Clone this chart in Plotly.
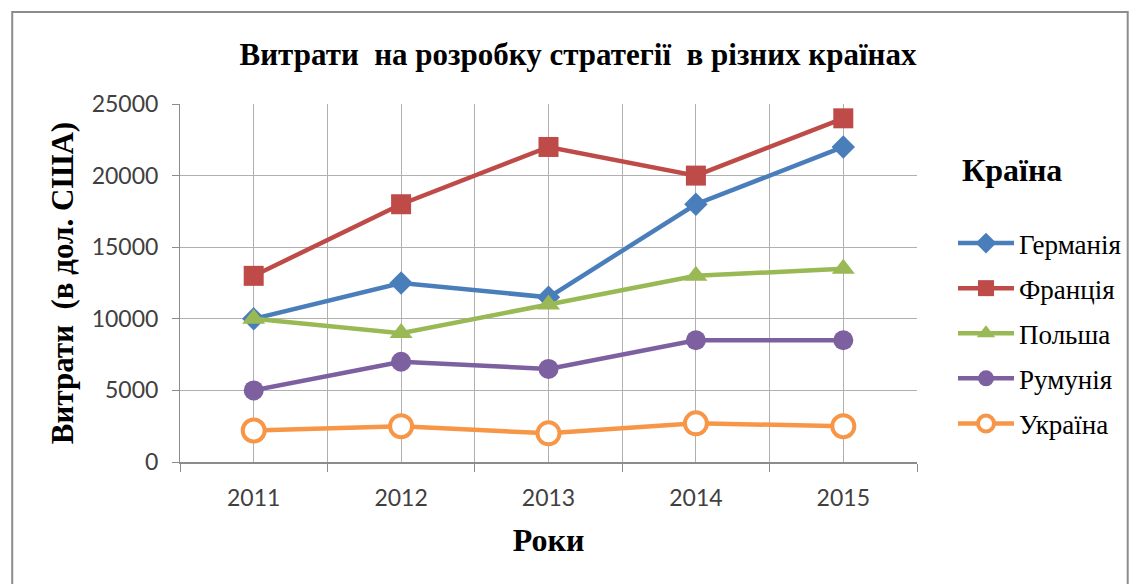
import plotly.graph_objects as go

years = [2011, 2012, 2013, 2014, 2015]
countries = ["Германія", "Франція", "Польша", "Румунія", "Україна"]
germany = [10000, 12500, 11500, 18000, 22000]
france = [13000, 18000, 22000, 20000, 24000]
poland = [10000, 9000, 11000, 13000, 13500]
romania = [5000, 7000, 6500, 8500, 8500]
ukraine = [2200, 2500, 2000, 2700, 2500]
y_ticks = [0, 5000, 10000, 15000, 20000, 25000]

series = [germany, france, poland, romania, ukraine]
colors = ["#4A7EBB", "#BE4B48", "#98B954", "#7D60A0", "#F79646"]
symbols = ["diamond", "square", "triangle-up", "circle", "circle"]
msizes = [18, 20, 20, 20, 22]

OFF = 8  # page body margin
W, H = 1137 - OFF, 584 - OFF
L, R, T, B = 180 - OFF, 918 - OFF, 104 - OFF, 462 - OFF

fig = go.Figure()
for i, (name, vals) in enumerate(zip(countries, series)):
    open_m = i == 4
    fig.add_trace(go.Scatter(
        x=years, y=vals, name=name, mode="lines+markers",
        legendgroup=name,
        line=dict(color=colors[i], width=4.5),
        marker=dict(symbol=symbols[i], size=msizes[i],
                    color="white" if open_m else colors[i],
                    line=dict(color=colors[i], width=4 if open_m else 0)),
    ))

def px_x(x):
    return (x - OFF - L) / (R - L)

def px_y(y):
    return (B - (y - OFF)) / (B - T)

serif = "Liberation Serif"
fig.update_layout(
    width=W, height=H,
    margin=dict(l=L, r=W - R, t=T, b=H - B),
    paper_bgcolor="white", plot_bgcolor="white",
    title=dict(text="<b>Витрати  на розробку стратегії  в різних країнах</b>",
               x=(578 - OFF) / W, xanchor="center",
               y=1 - (54 - OFF) / H, yanchor="middle",
               font=dict(family=serif, size=31, color="black")),
    showlegend=True,
    legend=dict(x=px_x(953), y=px_y(219), xanchor="left", yanchor="top",
                font=dict(family=serif, size=27, color="black"),
                itemwidth=56, tracegroupgap=7, bgcolor="rgba(0,0,0,0)"),
    font=dict(family="Lato", color="#404040"),
)

fig.update_xaxes(
    range=[2010.5, 2015.5], tickvals=years, ticktext=[str(y) for y in years],
    ticks="", showgrid=True, gridcolor="#B0B0B0", gridwidth=1,
    showline=True, linecolor="#8C8C8C", linewidth=2, zeroline=False,
    tickfont=dict(family="Lato", size=23, color="#404040"),
    ticklabelstandoff=14,
    minor=dict(tickvals=[2010.5, 2011.5, 2012.5, 2013.5, 2014.5, 2015.5],
               showgrid=True, gridcolor="#B0B0B0", gridwidth=1,
               ticks="outside", ticklen=8, tickcolor="#8C8C8C", tickwidth=1),
    title=dict(text="<b>Роки</b>", font=dict(family=serif, size=32, color="black"),
               standoff=19),
)
fig.update_yaxes(
    range=[0, 25000], tickvals=y_ticks, ticktext=[str(v) for v in y_ticks],
    ticks="outside", ticklen=7,
    tickcolor="#8C8C8C", showgrid=True, gridcolor="#B0B0B0", gridwidth=1,
    showline=True, linecolor="#8C8C8C", linewidth=1, zeroline=False,
    tickfont=dict(family="Lato", size=23, color="#404040"),
    ticklabelstandoff=9,
    title=dict(text="<b>Витрати  (в дол. США)</b>",
               font=dict(family=serif, size=31, color="black"), standoff=8),
)

fig.add_annotation(text="<b>Країна</b>", xref="paper", yref="paper",
                   x=px_x(961), y=px_y(170), xanchor="left", yanchor="middle",
                   showarrow=False, font=dict(family=serif, size=32, color="black"))

fig.add_shape(type="rect", xref="paper", yref="paper",
              x0=px_x(12), x1=px_x(1129), y0=px_y(600), y1=px_y(12),
              line=dict(color="#8C8C8C", width=2), fillcolor="rgba(0,0,0,0)",
              layer="below")

fig.write_html("out.html")
